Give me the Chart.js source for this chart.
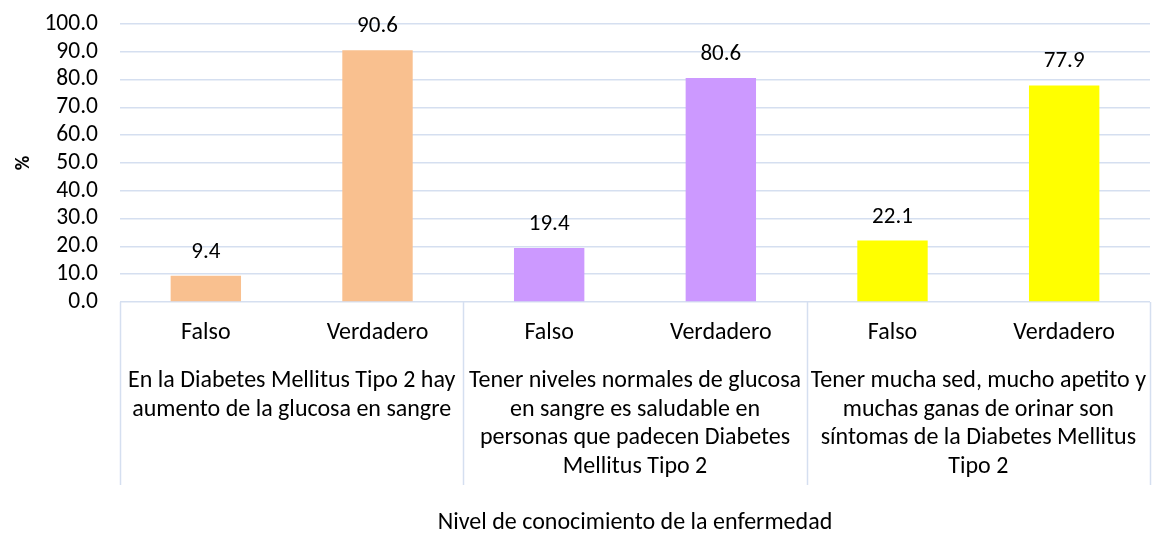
<!DOCTYPE html>
<html>
<head>
<meta charset="utf-8">
<script src="https://cdn.jsdelivr.net/npm/chart.js@4.4.1/dist/chart.umd.min.js"></script>
<style>
  html, body { margin: 0; padding: 0; background: #fff; }
  #wrap { width: 1153px; height: 535px; }
</style>
</head>
<body>
<div id="wrap"><canvas id="knowledge_chart" width="1153" height="535"></canvas></div>
<script>
const categories = ["Falso", "Verdadero", "Falso", "Verdadero", "Falso", "Verdadero"];
const percentages = [9.4, 90.6, 19.4, 80.6, 22.1, 77.9];
const groupLabels = [
    ["En la Diabetes Mellitus Tipo 2 hay", "aumento de la glucosa en sangre"],
    ["Tener niveles normales de glucosa", "en sangre es saludable en", "personas que padecen Diabetes", "Mellitus Tipo 2"],
    ["Tener mucha sed, mucho apetito y", "muchas ganas de orinar son", "síntomas de la Diabetes Mellitus", "Tipo 2"]
];
const groupSize = 2;
const barColors = ["#F9C08F", "#F9C08F", "#CC99FF", "#CC99FF", "#FFFF00", "#FFFF00"];

const FONT = "Carlito, Lato, 'Liberation Sans', sans-serif";
const gridColor = "#D5DFF0";

// draws values above bars, the two label rows and group separators
const multiLevelAxis = {
    id: "multiLevelAxis",
    afterDatasetsDraw(chart) {
        const ctx = chart.ctx;
        const meta = chart.getDatasetMeta(0);
        ctx.save();
        ctx.fillStyle = "#000";
        ctx.font = "23px " + FONT;
        ctx.textAlign = "center";
        ctx.textBaseline = "alphabetic";
        meta.data.forEach((bar, i) => {
            ctx.fillText(percentages[i].toFixed(1), bar.x, bar.y - 18);
        });
        ctx.restore();
    },
    afterDraw(chart) {
        const ctx = chart.ctx;
        const xScale = chart.scales.x;
        const bottom = chart.chartArea.bottom;
        ctx.save();

        // separators between groups
        ctx.strokeStyle = gridColor;
        ctx.lineWidth = 1.5;
        for (let g = 0; g <= groupLabels.length; g++) {
            const x = Math.round(xScale.getPixelForValue(g * groupSize - 0.5)) + 0.5;
            ctx.beginPath();
            ctx.moveTo(x, bottom);
            ctx.lineTo(x, 485);
            ctx.stroke();
        }

        ctx.fillStyle = "#000";
        ctx.font = "24px " + FONT;
        ctx.textAlign = "center";
        ctx.textBaseline = "middle";
        categories.forEach((label, i) => {
            ctx.fillText(label, xScale.getPixelForValue(i), 333);
        });

        groupLabels.forEach((lines, g) => {
            const center = (xScale.getPixelForValue(g * groupSize) + xScale.getPixelForValue(g * groupSize + groupSize - 1)) / 2;
            lines.forEach((line, k) => {
                ctx.fillText(line, center, 381 + k * 28.5);
            });
        });
        ctx.restore();
    }
};

new Chart(document.getElementById("knowledge_chart"), {
    type: "bar",
    data: {
        labels: categories,
        datasets: [{
            data: percentages,
            backgroundColor: barColors,
            borderWidth: 0,
            barPercentage: 0.41,
            categoryPercentage: 1
        }]
    },
    options: {
        responsive: false,
        animation: false,
        events: [],
        layout: {
            padding: { top: 24, right: 3, bottom: 0, left: 0 }
        },
        plugins: {
            legend: { display: false },
            tooltip: { enabled: false }
        },
        scales: {
            x: {
                grid: { display: false },
                border: { display: false },
                ticks: { display: false },
                title: {
                    display: true,
                    text: "Nivel de conocimiento de la enfermedad",
                    color: "#000",
                    font: { family: FONT, size: 24, lineHeight: 1 },
                    padding: { top: 0, bottom: 0 }
                },
                afterFit(scale) {
                    scale.height = 233;
                }
            },
            y: {
                min: 0,
                max: 100,
                ticks: {
                    stepSize: 10,
                    autoSkip: false,
                    color: "#000",
                    padding: 22,
                    font: { family: FONT, size: 23.5 },
                    callback: value => value.toFixed(1)
                },
                grid: { color: gridColor, lineWidth: 1.5, drawTicks: false },
                border: { display: false },
                title: {
                    display: true,
                    text: "%",
                    color: "#000",
                    font: { family: FONT, size: 20, weight: "bold" },
                    padding: { top: 12, bottom: 0 }
                },
                afterFit(scale) {
                    scale.width = 120;
                    scale.paddingTop = 0;
                    scale.paddingBottom = 0;
                }
            }
        }
    },
    plugins: [multiLevelAxis]
});
</script>
</body>
</html>
